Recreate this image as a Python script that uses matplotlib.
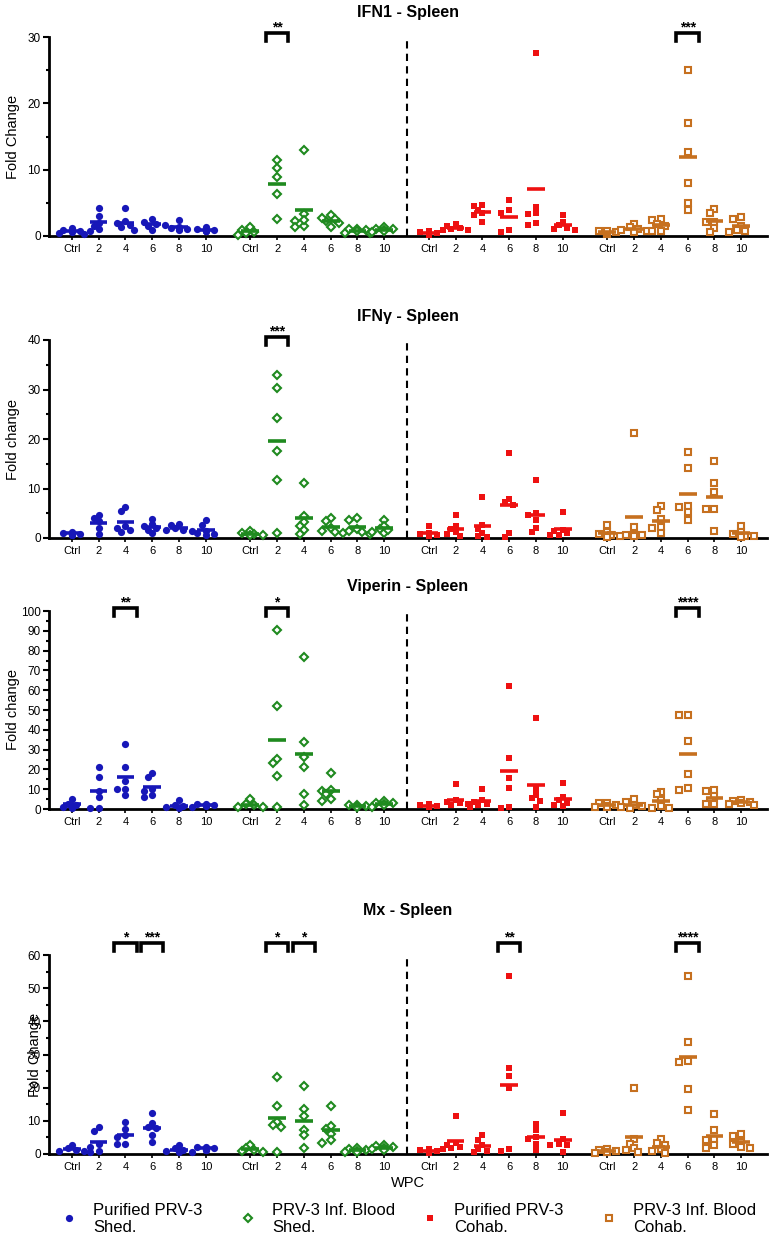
import numpy as np
import matplotlib.pyplot as plt
from matplotlib.ticker import MultipleLocator

plt.rcParams['font.family'] = ['Liberation Sans', 'DejaVu Sans']

W, H = 773, 1241

timepoints = ['Ctrl', '2', '4', '6', '8', '10']
group_labels = ['Purified PRV-3\nShed.', 'PRV-3 Inf. Blood\nShed.',
                'Purified PRV-3\nCohab.', 'PRV-3 Inf. Blood\nCohab.']
colors = ['#1717b8', '#1f8a1f', '#ee1111', '#c6701f']

# ---- IFN1 ----
ifn1_pur_shed = [[1.2, 0.4, 0.6, 0.9, 0.3, 0.8], [4.2, 3.0, 1.5, 0.7, 1.0, 2.0],
                 [4.2, 2.2, 1.6, 1.3, 0.9, 2.0], [2.5, 2.1, 1.8, 1.5, 0.9, 1.7],
                 [2.4, 1.3, 1.1, 1.0, 0.9, 1.2], [1.3, 1.0, 0.8, 0.7, 0.9, 0.8]]
ifn1_blood_shed = [[1.3, 0.9, 0.6, 0.4, 0.2], [11.4, 10.3, 8.9, 6.4, 2.5],
                   [13.0, 3.3, 2.2, 1.3, 1.5, 2.4], [3.1, 2.6, 2.2, 2.0, 1.4, 2.7],
                   [1.1, 0.9, 0.5, 0.4, 1.0, 0.7], [1.3, 1.0, 0.9, 0.8, 1.1, 0.6]]
ifn1_pur_cohab = [[0.7, 0.5, 0.3, 0.6, 0.2], [1.8, 1.5, 1.2, 1.0, 0.9, 0.9],
                  [4.6, 4.5, 3.9, 3.4, 3.1, 2.1], [5.4, 3.9, 3.5, 0.9, 0.6],
                  [27.6, 4.3, 3.5, 3.3, 2.0, 1.6], [3.2, 2.1, 1.6, 1.2, 1.1, 0.9]]
ifn1_blood_cohab = [[0.7, 0.6, 0.4, 0.3, 0.5, 0.8], [1.8, 1.3, 1.0, 0.9, 0.6, 0.8],
                    [2.5, 2.4, 1.8, 1.5, 0.8, 0.7], [25.1, 17.0, 12.7, 8.0, 5.0, 3.9],
                    [4.0, 3.4, 2.1, 2.1, 1.2, 0.6], [2.8, 2.5, 1.5, 0.9, 0.8, 0.6]]

# ---- IFN gamma ----
ifng_pur_shed = [[1.3, 1.1, 0.9, 0.7, 0.6], [4.6, 4.0, 3.4, 2.0, 0.9],
                 [6.2, 5.5, 2.4, 2.0, 1.3, 1.6], [3.9, 2.8, 2.5, 2.0, 1.6, 1.0],
                 [2.8, 2.6, 2.0, 1.7, 1.5, 1.6], [3.6, 2.6, 1.4, 0.9, 0.7, 1.0]]
ifng_blood_shed = [[1.4, 1.0, 0.8, 0.7, 0.6], [33.0, 30.3, 24.2, 17.6, 11.8, 1.0],
                   [11.2, 4.5, 3.2, 2.4, 1.7, 0.9], [4.1, 3.4, 2.0, 1.5, 1.3, 1.1],
                   [4.1, 3.6, 1.8, 1.4, 1.2, 0.9], [3.7, 2.4, 1.8, 1.3, 1.0, 1.6]]
ifng_pur_cohab = [[2.5, 1.0, 0.8, 0.6, 0.5, 0.4], [4.7, 2.4, 1.8, 1.2, 0.8, 0.5],
                  [8.3, 2.6, 1.9, 1.0, 0.4, 0.3], [17.2, 7.9, 7.2, 6.7, 1.0, 0.3],
                  [11.8, 5.0, 4.7, 3.7, 2.0, 1.2], [5.2, 1.7, 1.4, 1.0, 0.7, 0.6]]
ifng_blood_cohab = [[2.6, 1.3, 0.8, 0.6, 0.4, 0.3], [21.2, 2.2, 0.8, 0.7, 0.6, 0.5],
                    [6.5, 5.6, 3.8, 2.2, 2.0, 1.0], [17.3, 14.1, 6.4, 6.2, 5.2, 3.7],
                    [15.6, 11.1, 9.3, 5.9, 5.8, 1.5], [2.4, 1.3, 0.8, 0.5, 0.4, 0.3]]

# ---- Viperin ----
vip_pur_shed = [[4.8, 2.6, 2.2, 1.2, 0.6], [21.4, 16.2, 9.0, 5.9, 0.3, 0.3],
                [33.0, 21.4, 14.0, 10.3, 10.0, 7.1], [18.4, 16.3, 10.3, 9.0, 7.1, 5.9],
                [4.5, 2.0, 1.5, 1.0, 0.5, 0.8], [2.6, 2.4, 2.0, 1.8, 1.5, 1.9]]
vip_blood_shed = [[4.9, 2.5, 1.8, 1.2, 0.8], [90.4, 52.0, 25.3, 23.4, 16.7, 1.2],
                  [76.9, 33.7, 26.4, 21.4, 7.6, 2.0], [18.0, 9.8, 9.0, 7.6, 5.0, 4.0],
                  [2.0, 1.8, 1.5, 1.2, 0.8, 1.0], [3.8, 3.2, 2.8, 2.5, 1.2, 2.2]]
vip_pur_cohab = [[2.4, 2.1, 1.5, 1.2, 0.8, 1.0], [12.5, 4.4, 3.7, 3.0, 2.4, 1.8],
                 [9.9, 4.4, 3.5, 2.5, 1.8, 1.2], [62.1, 25.6, 15.5, 10.4, 0.7, 1.2],
                 [46.1, 9.9, 7.1, 5.4, 4.2, 1.2], [13.0, 5.9, 4.4, 3.2, 2.0, 1.5]]
vip_blood_cohab = [[3.2, 2.8, 2.0, 1.6, 1.0, 0.8], [4.8, 3.5, 2.0, 1.5, 1.2, 0.6],
                   [8.8, 7.4, 4.6, 1.5, 0.5, 0.3], [47.5, 47.5, 34.3, 17.5, 10.8, 9.6],
                   [9.6, 9.0, 6.5, 4.0, 2.5, 2.4], [4.6, 4.2, 3.6, 3.0, 2.5, 2.0]]

# ---- Mx ----
mx_pur_shed = [[2.8, 1.8, 1.3, 1.0, 0.8], [8.0, 7.0, 3.0, 2.2, 0.8, 0.5],
               [9.7, 7.6, 5.6, 5.2, 3.1, 3.0], [12.4, 9.4, 8.0, 7.7, 5.6, 3.6],
               [2.8, 1.8, 1.3, 1.0, 0.6, 0.5], [2.2, 2.0, 1.8, 1.5, 1.3, 1.2]]
mx_blood_shed = [[2.8, 1.8, 1.2, 0.8, 0.5], [23.2, 14.4, 9.7, 8.7, 8.2, 0.5],
                 [20.4, 13.7, 11.4, 7.3, 5.6, 1.7], [14.5, 8.4, 7.5, 6.1, 4.1, 3.3],
                 [1.8, 1.5, 1.2, 1.0, 0.7, 0.5], [2.6, 2.4, 2.0, 1.8, 1.5, 1.3]]
mx_pur_cohab = [[1.6, 1.2, 0.9, 0.7, 0.5, 0.4], [11.4, 3.2, 2.8, 2.2, 1.8, 1.5],
                [5.6, 4.1, 2.6, 1.5, 1.0, 0.5], [53.7, 26.0, 23.4, 20.0, 1.6, 1.0],
                [9.0, 7.1, 5.2, 4.5, 3.1, 1.2], [12.4, 4.6, 3.1, 2.8, 2.6, 0.6]]
mx_blood_cohab = [[1.6, 1.3, 1.0, 0.7, 0.5, 0.3], [19.9, 4.6, 3.1, 1.8, 1.2, 0.5],
                  [4.6, 3.3, 2.8, 1.5, 0.8, 0.3], [53.8, 33.7, 27.9, 27.7, 19.5, 13.4],
                  [12.0, 7.1, 4.6, 4.2, 2.6, 1.8], [6.1, 5.3, 3.6, 3.0, 2.0, 1.8]]

# significance brackets: (group, timepoint index, stars)
ifn1_sig = [(1, 1, '**'), (3, 3, '***')]
ifng_sig = [(1, 1, '***')]
vip_sig = [(0, 2, '**'), (1, 1, '*'), (3, 3, '****')]
mx_sig = [(0, 2, '*'), (0, 3, '***'), (1, 1, '*'), (1, 2, '*'), (2, 3, '**'), (3, 3, '****')]

panels = [
    ('IFN1 - Spleen', 'Fold Change', 30, [ifn1_pur_shed, ifn1_blood_shed, ifn1_pur_cohab, ifn1_blood_cohab], ifn1_sig),
    ('IFN\u03b3 - Spleen', 'Fold change', 40, [ifng_pur_shed, ifng_blood_shed, ifng_pur_cohab, ifng_blood_cohab], ifng_sig),
    ('Viperin - Spleen', 'Fold change', 100, [vip_pur_shed, vip_blood_shed, vip_pur_cohab, vip_blood_cohab], vip_sig),
    ('Mx - Spleen', 'Fold Change', 60, [mx_pur_shed, mx_blood_shed, mx_pur_cohab, mx_blood_cohab], mx_sig),
]

# layout (pixels)
ax_top = [37, 340, 611, 955]
ax_bot = [236, 538, 809, 1154]
title_y = [12, 317, 586, 910]
ylab_x = [13.5, 13.5, 13.5, 35]
brk_top = [4, 3, 3, 12]
ax_left, ax_right = 49, 767
group_step = 6.66
xlo, xhi = -0.85, 25.94
px_per_x = (ax_right - ax_left) / (xhi - xlo)

markers = [dict(marker='o', ms=5.2, mfc=colors[0], mec=colors[0], mew=0),
           dict(marker='D', ms=4.2, mfc='white', mec=colors[1], mew=1.5),
           dict(marker='s', ms=5.0, mfc=colors[2], mec=colors[2], mew=0),
           dict(marker='s', ms=5.0, mfc='white', mec=colors[3], mew=1.5)]


def swarm(vals, ppu_y, d=5.0, step=4.2):
    # deterministic beeswarm-like offsets (in data x units)
    vals = np.asarray(vals, float)
    order = np.argsort(-vals)
    placed = []
    offs = np.zeros(len(vals))
    for i in order:
        y = vals[i] * ppu_y
        best = None
        for k in [0, -1, 1, -2, 2, -3, 3]:
            x = k * step
            if all((x - px) ** 2 + (y - py) ** 2 >= d ** 2 for px, py in placed):
                best = x
                break
        if best is None:
            best = 0.0
        placed.append((best, y))
        offs[i] = best / px_per_x
    return offs


fig = plt.figure(figsize=(W / 100, H / 100), dpi=100)

for p, (title, ylab, ymax, series, sig) in enumerate(panels):
    top, bot = ax_top[p], ax_bot[p]
    ax = fig.add_axes([ax_left / W, 1 - bot / H, (ax_right - ax_left) / W, (bot - top) / H])
    ppu_y = (bot - top) / ymax
    ticks, ticklabels = [], []
    for g, data in enumerate(series):
        for i, vals in enumerate(data):
            xc = g * group_step + i
            ticks.append(xc)
            ticklabels.append(timepoints[i])
            offs = swarm(vals, ppu_y)
            ax.plot(xc + offs, vals, linestyle='none', clip_on=False, zorder=3, **markers[g])
            ax.hlines(np.mean(vals), xc - 0.33, xc + 0.33, color=colors[g], lw=2.6, zorder=4)
    ax.set_xlim(xlo, xhi)
    ax.set_ylim(0, ymax)
    ax.set_xticks(ticks)
    ax.set_xticklabels(ticklabels, fontsize=8)
    ax.yaxis.set_major_locator(MultipleLocator(10))
    ax.yaxis.set_minor_locator(MultipleLocator(5))
    ax.tick_params(axis='y', labelsize=8.5, width=1.5, length=4, pad=2)
    ax.tick_params(axis='y', which='minor', width=1.5, length=2.5)
    ax.tick_params(axis='x', width=1.2, length=3, pad=3)
    for s in ['top', 'right']:
        ax.spines[s].set_visible(False)
    ax.spines['left'].set_linewidth(2)
    ax.spines['bottom'].set_linewidth(2)
    ax.axvline(group_step * 2 - 0.83, color='black', lw=1.5, ls=(0, (3.5, 2.5)))

    u = ymax / (bot - top)
    for g, i, stars in sig:
        xc = g * group_step + i
        yt = ymax + brk_top[p] * u
        ax.plot([xc - 0.42, xc - 0.42, xc + 0.42, xc + 0.42],
                [yt - 8 * u, yt, yt, yt - 8 * u], color='black', lw=2.6,
                clip_on=False, solid_joinstyle='miter', zorder=5)
        ax.text(xc, yt + 5.5 * u, stars, ha='center', va='center', fontsize=10,
                fontweight='bold', clip_on=False)

    fig.text((ax_left + ax_right) / 2 / W, 1 - title_y[p] / H, title, ha='center',
             va='center', fontsize=11.5, fontweight='bold')
    fig.text(ylab_x[p] / W, 1 - (top + bot) / 2 / H, ylab, rotation=90,
             ha='center', va='center', fontsize=10.5)

fig.text((ax_left + ax_right) / 2 / W, 1 - 1183 / H, 'WPC', ha='center', va='center', fontsize=10.5)

# legend
leg_x = [69, 248, 430, 609]
for g in range(4):
    fig.add_artist(plt.Line2D([leg_x[g] / W], [1 - 1218 / H], transform=fig.transFigure,
                              linestyle='none', **markers[g]))
    fig.text((leg_x[g] + 24) / W, 1 - 1219 / H, group_labels[g], ha='left', va='center',
             fontsize=12, linespacing=1.1)

fig.savefig('out.png', dpi=100)
